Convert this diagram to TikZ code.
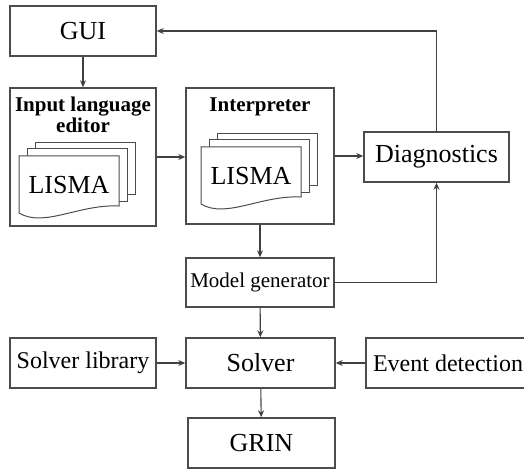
\documentclass[tikz,border=0pt]{standalone}
\usepackage{fontspec}
\setmainfont{Liberation Serif}
\usetikzlibrary{arrows.meta,positioning}
\tikzset{
  Block/.style={draw=black!70,line width=1.5pt,minimum width=146pt,minimum height=50pt,
    inner sep=0pt,font=\fontsize{26}{28}\selectfont},
  Flow/.style={-{Stealth[length=7pt,width=6pt]},draw=black!75,line width=1.1pt},
  Title/.style={font=\fontsize{21}{21}\selectfont\bfseries,align=center,inner sep=0pt,anchor=north},
  docpage/.style={draw=black!70,line width=1pt,fill=white},
  lismadoc/.pic={
    \path[docpage] (16,13) rectangle (116,-39);
    \path[docpage] (8,7) rectangle (108,-46);
    \path[docpage] (0,-57) -- (0,0) -- (100,0) -- (100,-50)
      .. controls (60,-48) and (25,-72) .. (0,-57) -- cycle;
    \node[font=\fontsize{26}{28}\selectfont] (-txt) at (50,-29) {LISMA};
  }
}

\begin{document}
\begin{tikzpicture}[x=1pt,y=1pt]
    \clip (0,0) rectangle (524,470);

    % upper row
    \node[Block] (GUI) at (83,439) {GUI};
    \node[Block,minimum height=138pt] (Editor) at (83,313) {};
    \node[Block,minimum width=148pt,minimum height=136pt] (Interp) at (260,314) {};
    \node[Block,minimum width=145pt] (Diag) at (436.5,313) {Diagnostics};

    \node[Title] (EditorT) at ([yshift=-9pt]Editor.north) {Input language\\editor};
    \node[Title] (InterpT) at ([yshift=-10pt]Interp.north) {Interpreter};

    \pic (EditorDoc) at (19,314) {lismadoc};
    \pic (InterpDoc) at (201,323) {lismadoc};

    % lower part
    \node[Block,minimum width=148pt,minimum height=49pt,font=\fontsize{21}{23}\selectfont]
      (MGen) at (260,187.5) {Model generator};
    \node[Block,font=\fontsize{24}{26}\selectfont] (SLib) at (83,107) {Solver library};
    \node[Block,minimum width=149pt] (Solver) at (260.5,107) {Solver};
    \node[Block,minimum width=164pt,font=\fontsize{24}{26}\selectfont] (Event) at (448,107) {Event detection};
    \node[Block,minimum width=147pt] (GRIN) at (261.5,27) {GRIN};

    \draw[Flow] (GUI) -- (Editor);
    \draw[Flow] (Editor.east) -- (Editor.east -| Interp.west);
    \draw[Flow] (Interp.east) -- (Interp.east -| Diag.west);
    \draw[Flow] (Diag.north) |- (GUI.east);
    \draw[Flow] (Interp) -- (MGen);
    \draw[Flow] (MGen.east) -| (Diag.south);
    \draw[Flow] (MGen) -- (Solver);
    \draw[Flow] (SLib) -- (Solver);
    \draw[Flow] (Event) -- (Solver);
    \draw[Flow] (Solver) -- (GRIN);
\end{tikzpicture}
\end{document}
